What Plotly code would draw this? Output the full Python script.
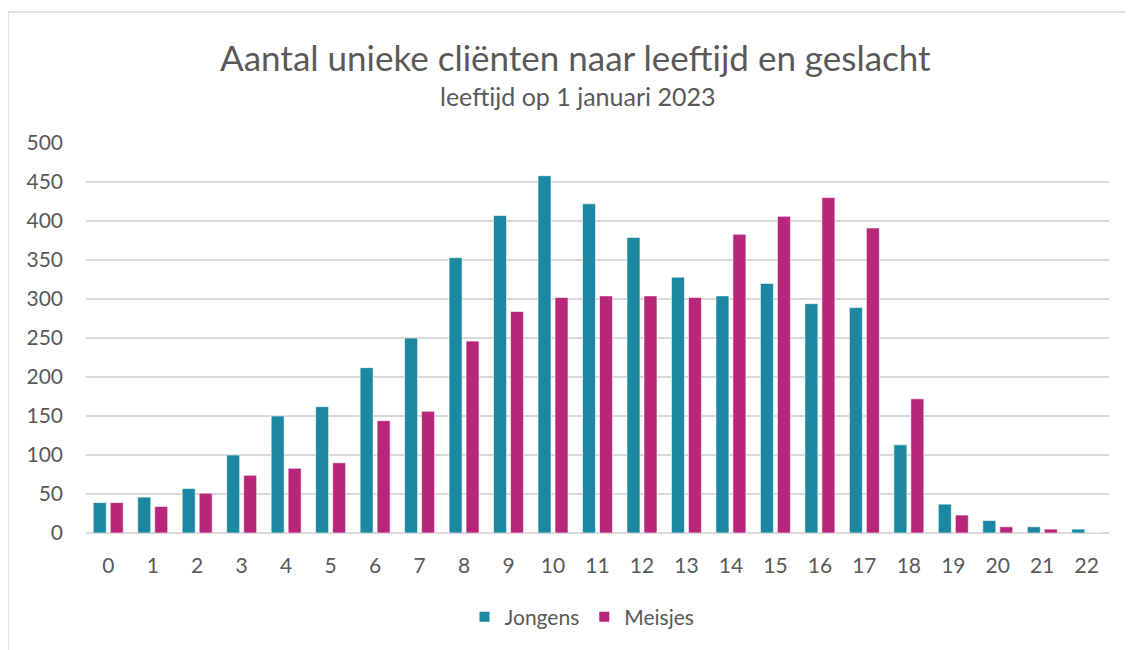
import plotly.graph_objects as go

ages = [str(i) for i in range(23)]
jongens = [39, 46, 57, 100, 150, 162, 212, 250, 353, 407, 458, 422, 379, 328, 304, 320, 294, 289, 113, 37, 16, 8, 5]
meisjes = [39, 34, 51, 74, 83, 90, 144, 156, 246, 284, 302, 304, 304, 302, 383, 406, 430, 391, 172, 23, 8, 5, 0]
y_ticks = [0, 50, 100, 150, 200, 250, 300, 350, 400, 450, 500]

title = "Aantal unieke cliënten naar leeftijd en geslacht"
subtitle = "leeftijd op 1 januari 2023"

FONT = "Lato"
GRAY = "#595959"
OFF = 8  # page body margin
W, H = 1133 - OFF, 650 - OFF
# plot area in page pixels
PL, PR, PT, PB = 86, 1109, 143, 533
ML, MR, MT, MB = PL - OFF, W - (PR - OFF), PT - OFF, H - (PB - OFF)
PW = W - ML - MR
PH = H - MT - MB

fig = go.Figure()
fig.add_trace(go.Bar(x=ages, y=jongens, name="Jongens", marker=dict(color="#1b87a0", line=dict(color="white", width=0.6))))
fig.add_trace(go.Bar(x=ages, y=meisjes, name="Meisjes", marker=dict(color="#b82679", line=dict(color="white", width=0.6))))

def px_x(p):
    return (p - PL) / PW

def px_y(p):
    return (PB - p) / PH

fig.update_layout(
    width=W, height=H,
    margin=dict(l=ML, r=MR, t=MT, b=MB),
    paper_bgcolor="white", plot_bgcolor="white",
    barmode="group", bargap=0.236, bargroupgap=0.235,
    font=dict(family=FONT, color=GRAY, size=21),
    showlegend=True,
    legend=dict(orientation="h", x=px_x(582), xanchor="center", y=px_y(617), yanchor="middle",
                font=dict(size=21, color=GRAY), itemsizing="constant"),
    xaxis=dict(type="category", showgrid=False, showline=False, ticks="",
               tickfont=dict(size=21, color=GRAY), ticklabelstandoff=18),
    yaxis=dict(range=[0, 500], tickvals=y_ticks, showgrid=True, gridcolor="#d9d9d9", gridwidth=1.5,
               zeroline=True, zerolinecolor="#d9d9d9", zerolinewidth=1.5, showline=False, ticks="",
               tickfont=dict(size=21, color=GRAY), ticklabelstandoff=22),
    annotations=[
        dict(text=title, xref="paper", yref="paper", x=px_x(575), y=px_y(57), xanchor="center", yanchor="middle",
             showarrow=False, font=dict(size=35, color=GRAY, family=FONT)),
        dict(text=subtitle, xref="paper", yref="paper", x=px_x(577), y=px_y(96), xanchor="center", yanchor="middle",
             showarrow=False, font=dict(size=25, color=GRAY, family=FONT)),
    ],
    shapes=[
        dict(type="rect", xref="paper", yref="paper", x0=px_x(8), x1=px_x(1150), y0=px_y(670), y1=px_y(12),
             line=dict(color="#d9d9d9", width=1.5), fillcolor="rgba(0,0,0,0)", layer="below"),
    ],
)

fig.write_html("out.html")
